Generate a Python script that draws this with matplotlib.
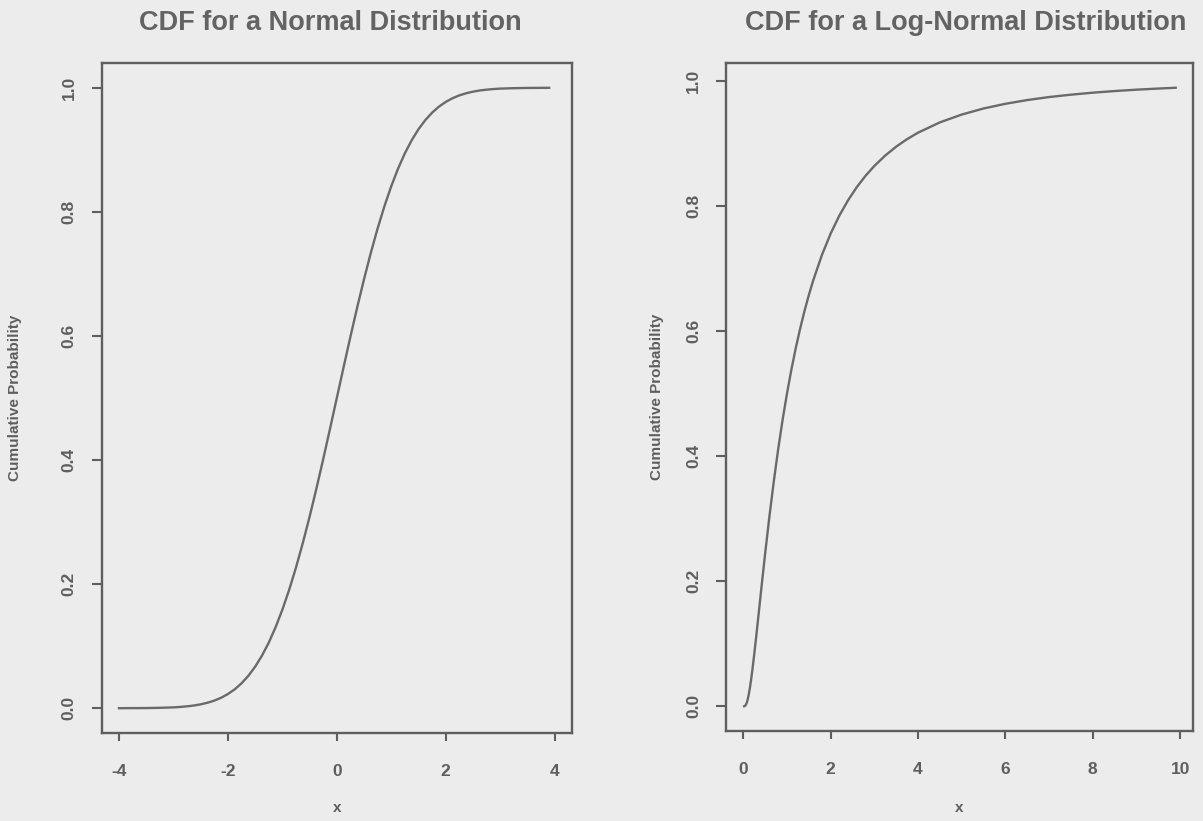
import matplotlib
matplotlib.use("Agg")
import matplotlib.pyplot as plt

# ---- data ----
norm_x = [-4.0, -3.5, -3.25, -3.0, -2.875, -2.75, -2.625, -2.5, -2.375, -2.25,
          -2.125, -2.0, -1.875, -1.75, -1.625, -1.5, -1.375, -1.25, -1.125, -1.0,
          -0.875, -0.75, -0.625, -0.5, -0.375, -0.25, -0.125, 0.0, 0.125, 0.25,
          0.375, 0.5, 0.625, 0.75, 0.875, 1.0, 1.125, 1.25, 1.375, 1.5, 1.625,
          1.75, 1.875, 2.0, 2.125, 2.25, 2.375, 2.5, 2.625, 2.75, 2.875, 3.0,
          3.25, 3.5, 3.9]
norm_y = [0.0000, 0.0002, 0.0006, 0.0013, 0.0020, 0.0030, 0.0043, 0.0062, 0.0088,
          0.0122, 0.0168, 0.0228, 0.0304, 0.0401, 0.0521, 0.0668, 0.0846, 0.1056,
          0.1303, 0.1587, 0.1908, 0.2266, 0.2660, 0.3085, 0.3538, 0.4013, 0.4503,
          0.5000, 0.5497, 0.5987, 0.6462, 0.6915, 0.7340, 0.7734, 0.8092, 0.8413,
          0.8697, 0.8944, 0.9154, 0.9332, 0.9479, 0.9599, 0.9696, 0.9772, 0.9832,
          0.9878, 0.9912, 0.9938, 0.9957, 0.9970, 0.9980, 0.9987, 0.9994, 0.9998,
          1.0000]

lnorm_x = [0.02, 0.04, 0.06, 0.08, 0.1, 0.125, 0.15, 0.175, 0.2, 0.25, 0.3, 0.35,
           0.4, 0.45, 0.5, 0.6, 0.7, 0.8, 0.9, 1.0, 1.1, 1.2, 1.3, 1.4, 1.5, 1.6,
           1.8, 2.0, 2.2, 2.4, 2.6, 2.8, 3.0, 3.25, 3.5, 3.75, 4.0, 4.5, 5.0, 5.5,
           6.0, 6.5, 7.0, 7.5, 8.0, 8.5, 9.0, 9.5, 9.9]
lnorm_y = [0.0000, 0.0006, 0.0025, 0.0058, 0.0106, 0.0188, 0.0289, 0.0407, 0.0538,
           0.0828, 0.1143, 0.1469, 0.1798, 0.2122, 0.2441, 0.3047, 0.3606, 0.4117,
           0.4581, 0.5000, 0.5380, 0.5724, 0.6035, 0.6317, 0.6574, 0.6808, 0.7217,
           0.7559, 0.7848, 0.8093, 0.8303, 0.8484, 0.8640, 0.8807, 0.8949, 0.9069,
           0.9172, 0.9337, 0.9462, 0.9559, 0.9634, 0.9694, 0.9742, 0.9780, 0.9812,
           0.9838, 0.9860, 0.9878, 0.9891]

norm_xticks = [-4, -2, 0, 2, 4]
lnorm_xticks = [0, 2, 4, 6, 8, 10]
yticks = [0.0, 0.2, 0.4, 0.6, 0.8, 1.0]
ytick_labels = ["0.0", "0.2", "0.4", "0.6", "0.8", "1.0"]

titles = ["CDF for a Normal Distribution", "CDF for a Log-Normal Distribution"]
xlabel = "x"
ylabel = "Cumulative Probability"

# ---- style ----
BG = "#ececec"
INK = "#5e5e5e"
LINE = "#6a6a6a"
plt.rcParams["font.family"] = ["Liberation Sans", "DejaVu Sans"]

W, H = 1203, 821
fig = plt.figure(figsize=(W / 100, H / 100), dpi=100, facecolor=BG)


def rect(x0, x1, y0, y1):
    return [x0 / W, 1 - y1 / H, (x1 - x0) / W, (y1 - y0) / H]


boxes = [(101.6, 572, 63, 733), (726, 1193, 63, 731)]
ax1 = fig.add_axes(rect(*boxes[0]))
ax2 = fig.add_axes(rect(*boxes[1]))

# pixel positions of labels in the reference
ylab_px = [15, 657]
xlab_py = [808, 808]
title_py = [23, 23]
title_px = [330, 966]

panels = [
    (ax1, norm_x, norm_y, norm_xticks, (-4.32, 4.32)),
    (ax2, lnorm_x, lnorm_y, lnorm_xticks, None),
]

for i, (ax, xs, ys, xt, xl) in enumerate(panels):
    x0, x1, y0, y1 = boxes[i]
    ax.set_facecolor(BG)
    ax.plot(xs, ys, color=LINE, lw=1.7, solid_joinstyle="round")
    ax.set_xticks(xt)
    ax.set_xticklabels([str(v) for v in xt])
    ax.set_yticks(yticks)
    ax.set_yticklabels(ytick_labels, rotation=90, va="center")
    if xl is not None:
        ax.set_xlim(*xl)
    else:
        hi = max(xs)
        ext = hi * 0.04
        ax.set_xlim(-ext, hi + ext)
    ylo, yhi = min(ys), max(ys)
    ext = (yhi - ylo) * 0.04
    ax.set_ylim(ylo - ext, yhi + ext)
    for s in ax.spines.values():
        s.set_color(INK)
        s.set_linewidth(1.7)
    ax.tick_params(axis="x", direction="out", length=6, width=1.5, color=INK,
                   labelcolor=INK, labelsize=12.5, pad=16)
    ax.tick_params(axis="y", direction="out", length=7, width=1.5, color=INK,
                   labelcolor=INK, labelsize=12.5, pad=11)
    for lab in ax.get_xticklabels() + ax.get_yticklabels():
        lab.set_fontweight("bold")
    ax.set_title(titles[i], fontsize=19.5, fontweight="bold", color="#636363",
                 x=(title_px[i] - x0) / (x1 - x0),
                 y=(y1 - title_py[i]) / (y1 - y0), va="center", pad=0)
    ax.set_xlabel(xlabel, fontsize=11, fontweight="bold", color=INK, va="center")
    ax.xaxis.set_label_coords(0.5, (y1 - xlab_py[i]) / (y1 - y0))
    ax.set_ylabel(ylabel, fontsize=11, fontweight="bold", color=INK, va="center")
    ax.yaxis.set_label_coords((ylab_px[i] - x0) / (x1 - x0), 0.5)

fig.savefig("out.png", dpi=100, facecolor=BG)
